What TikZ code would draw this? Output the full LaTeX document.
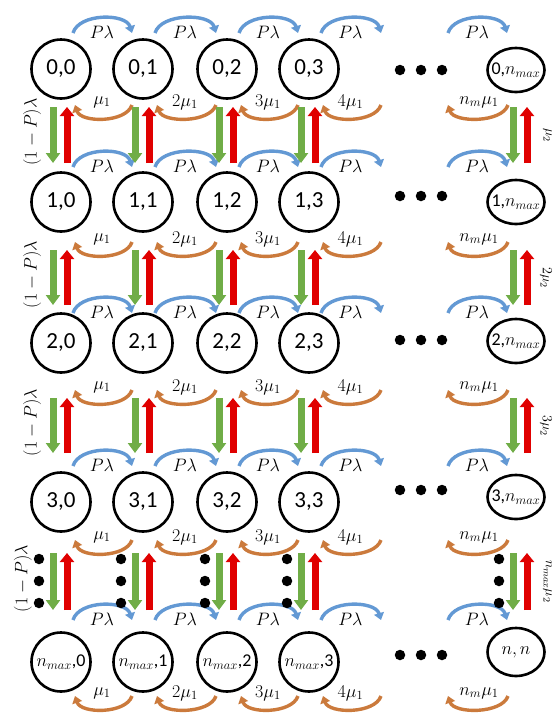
\documentclass[tikz,border=0pt]{standalone}
\usepackage{fix-cm}
\usepackage[no-math]{fontspec}
\setmainfont{Carlito}
\usetikzlibrary{arrows.meta,shapes.geometric}

\definecolor{arcblue}{HTML}{6399D4}
\definecolor{arcorange}{HTML}{CB7A3C}
\definecolor{uprd}{HTML}{E00000}
\definecolor{dngreen}{HTML}{70AD47}

\tikzset{
  stnode/.style={circle, draw, line width=2.6pt, minimum size=59pt, inner sep=0pt,
                 font=\fontsize{23}{27}\selectfont},
  stnodeR/.style={ellipse, draw, line width=2.6pt, minimum width=57pt, minimum height=44pt,
                  inner sep=-8pt, font=\fontsize{18}{22}\selectfont},
  rate/.style={inner sep=0pt, font=\fontsize{18}{22}\selectfont},
  edgerate/.style={inner sep=0pt, font=\fontsize{14}{17}\selectfont},
  arrive/.style={arcblue, line width=3.4pt, -{Triangle[width=10pt,length=7pt]}},
  serve/.style={arcorange, line width=3.4pt, -{Triangle[width=10pt,length=7pt]}},
  fall/.style={dngreen, line width=7pt, -{Triangle[width=14pt,length=10pt]}},
  climb/.style={uprd, line width=7pt, -{Triangle[width=14pt,length=9pt]}},
  bigdot/.style={circle, fill=black, inner sep=0pt, minimum size=10.5pt}
}

\begin{document}
\begin{tikzpicture}[x=1pt,y=-1pt]
\useasboundingbox (0,0) rectangle (556,713);
\fill[white] (0,0) rectangle (556,713);

% states of rows 0..3
\foreach \row/\ny/\nyR/\dy in {0/69/70/70, 1/202/202/196, 2/343/341/340, 3/502/497/490}{
  \foreach \col/\x in {0/61,1/143,2/227,3/309}
    \node[stnode] (n-\row-\col) at (\x,\ny) {\row,\col};
  \node[stnodeR] (n-\row-N) at (516,\nyR) {\row,$n_{max}$};
  \foreach \k/\dx in {1/400,2/421,3/442}
    \node[bigdot] (e-\row-\k) at (\dx,\dy) {};
}
% last row
\foreach \col/\x in {0/61,1/143,2/227,3/309}
  \node[stnode, font=\fontsize{18}{22}\selectfont] (n-4-\col) at (\x,662) {$n_{max}$,\col};
\node[stnodeR, minimum height=48pt] (n-4-N) at (516,652) {$n,n$};
\foreach \k/\dx in {1/400,2/421,3/442}
  \node[bigdot] (e-4-\k) at (\dx,655) {};

% horizontal transitions: arrivals above each row, services below
\foreach \row/\py/\oy in {0/32/105, 1/166/242, 2/312/390, 3/465/540, 4/619/696}{
  \foreach \col/\x/\xn/\mult in {0/61/143/{}, 1/143/227/2, 2/227/309/3, 3/309/392/4}{
    \coordinate (pa-\row-\col) at (\x+12,\py+1);
    \coordinate (pb-\row-\col) at (\xn-11,\py+1);
    \draw[arrive] (pa-\row-\col) .. controls +(6,-20) and +(-6,-20) .. (pb-\row-\col);
    \node[rate] (pl-\row-\col) at ({(\x+\xn)/2},\py) {$P\lambda$};
    \coordinate (sa-\row-\col) at (\xn-11,\oy);
    \coordinate (sb-\row-\col) at (\x+14,\oy);
    \draw[serve] (sa-\row-\col) .. controls +(-6,18) and +(6,18) .. (sb-\row-\col);
    \node[rate] (sl-\row-\col) at ({(\x+\xn)/2},\oy-3) {$\mult\mu_1$};
  }
  \coordinate (pa-\row-N) at (448,\py+1);
  \coordinate (pb-\row-N) at (507,\py+1);
  \draw[arrive] (pa-\row-N) .. controls +(6,-20) and +(-6,-20) .. (pb-\row-N);
  \node[rate] (pl-\row-N) at (477,\py) {$P\lambda$};
  \coordinate (sa-\row-N) at (508,\oy);
  \coordinate (sb-\row-N) at (448,\oy);
  \draw[serve] (sa-\row-N) .. controls +(-6,18) and +(6,18) .. (sb-\row-N);
  \node[rate] (sl-\row-N) at (479,\oy-3) {$n_m\mu_1$};
}

% vertical transitions between rows
\foreach \g/\ta/\tb/\lx/\rl in {0/107/163/32/{\mu_2}, 1/250/305/32/{2\mu_2},
                                2/398/453/32/{3\mu_2}, 3/553/610/23/{n_{max}\mu_2}}{
  \foreach \col/\gx in {0/53,1/135,2/219,3/301,N/513}{
    \coordinate (gt-\g-\col) at (\gx,\ta);
    \coordinate (gb-\g-\col) at (\gx,\tb);
    \coordinate (rt-\g-\col) at (\gx+14,\ta);
    \coordinate (rb-\g-\col) at (\gx+14,\tb);
    \draw[fall] (gt-\g-\col) -- (gb-\g-\col);
    \draw[climb] (rb-\g-\col) -- (rt-\g-\col);
  }
  \node[rate, rotate=90] (q-\g) at (\lx,{(\ta+\tb)/2-3}) {$(1-P)\lambda$};
  \node[edgerate, rotate=-90, anchor=north] (m-\g) at (552,{(\ta+\tb)/2}) {$\rl$};
}

% vertical ellipsis before the last row
\foreach \col/\gx in {0/53,1/135,2/219,3/301,N/513}
  \foreach \k/\vy in {1/559,2/581,3/603}
    \node[bigdot] (v-\col-\k) at (\gx-14,\vy) {};
\end{tikzpicture}
\end{document}
